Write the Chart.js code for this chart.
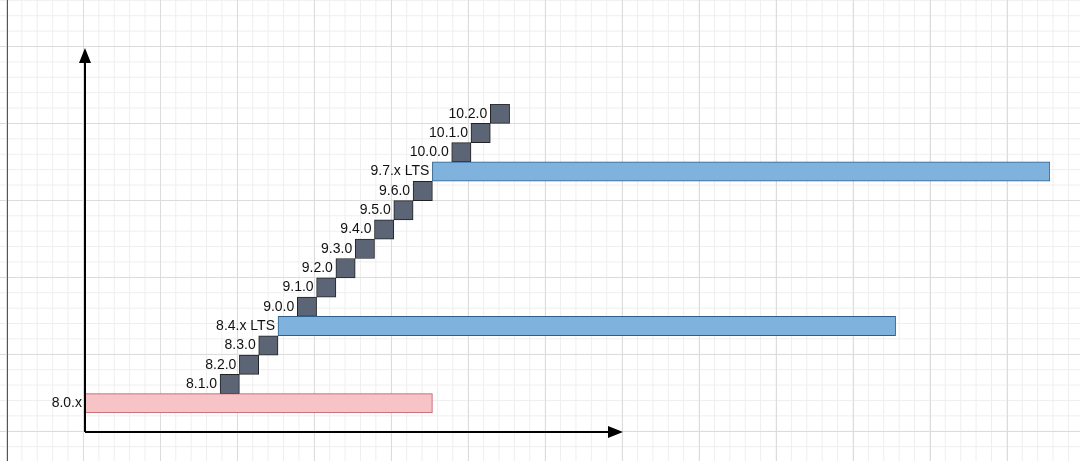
<!DOCTYPE html>
<html><head><meta charset="utf-8">
<script src="https://cdn.jsdelivr.net/npm/chart.js@4"></script>
<style>
html,body{margin:0;padding:0;}
body{width:1080px;height:461px;background-color:#fff;
background-image:
linear-gradient(to right,#dcdcdc 1px,transparent 1px),
linear-gradient(to bottom,#dcdcdc 1px,transparent 1px),
linear-gradient(to right,#eeeeee 1px,transparent 1px),
linear-gradient(to bottom,#eeeeee 1px,transparent 1px);
background-size:77px 77px,77px 77px,15.4px 15.4px,15.4px 15.4px;
background-position:6px 46px,6px 46px,6px 46px,6px 46px;}
#frame{position:absolute;left:7px;top:0;width:1px;height:461px;background:#555;}
#wrap{position:absolute;left:0;top:0;width:1080px;height:461px;}
</style></head><body>
<div id="frame"></div>
<div id="wrap"><canvas id="c" width="1080" height="461"></canvas></div>
<script>
const categories=["10.2.0","10.1.0","10.0.0","9.7.x LTS","9.6.0","9.5.0","9.4.0","9.3.0","9.2.0","9.1.0","9.0.0","8.4.x LTS","8.3.0","8.2.0","8.1.0","8.0.x"];
const starts=[21,20,19,18,17,16,15,14,13,12,11,10,9,8,7,0];
const ends=[22,21,20,50,18,17,16,15,14,13,12,42,10,9,8,18];
const fills=categories.map(c=>c.includes("LTS")?"#7fb2dc":(c==="8.0.x"?"#f6c3c7":"#5c6575"));
const borders=categories.map(c=>c.includes("LTS")?"#2e5f8a":(c==="8.0.x"?"#c0545e":"#222"));
const deco={id:'deco',afterDatasetsDraw(ch){
 const ctx=ch.ctx,x=ch.scales.x,y=ch.scales.y;
 ctx.save();ctx.fillStyle='#111';ctx.font='14px "Liberation Sans",Arial';ctx.textAlign='right';ctx.textBaseline='middle';
 categories.forEach((c,i)=>{ctx.fillText(c,x.getPixelForValue(starts[i])-3,y.getPixelForValue(i));});
 const ox=x.getPixelForValue(0),oy=432;
 ctx.strokeStyle='#000';ctx.lineWidth=2;ctx.beginPath();ctx.moveTo(ox,oy);ctx.lineTo(ox,60);ctx.moveTo(ox,oy);ctx.lineTo(610,oy);ctx.stroke();
 ctx.fillStyle='#000';ctx.beginPath();ctx.moveTo(ox,48);ctx.lineTo(ox-6,63);ctx.lineTo(ox+6,63);ctx.fill();
 ctx.beginPath();ctx.moveTo(623,oy);ctx.lineTo(608,oy-6);ctx.lineTo(608,oy+6);ctx.fill();
 ctx.restore();}};
new Chart(document.getElementById('c'),{type:'bar',
 data:{labels:categories,datasets:[{data:starts.map((s,i)=>[s,ends[i]]),backgroundColor:fills,borderColor:borders,borderWidth:1,borderSkipped:false,barPercentage:1,categoryPercentage:1}]},
 options:{indexAxis:'y',responsive:false,animation:false,devicePixelRatio:1,
  layout:{padding:{left:85,right:30,top:104,bottom:48}},
  plugins:{legend:{display:false},tooltip:{enabled:false}},
  scales:{x:{min:0,max:50,display:false},y:{display:false}}},
 plugins:[deco]});
</script></body></html>
